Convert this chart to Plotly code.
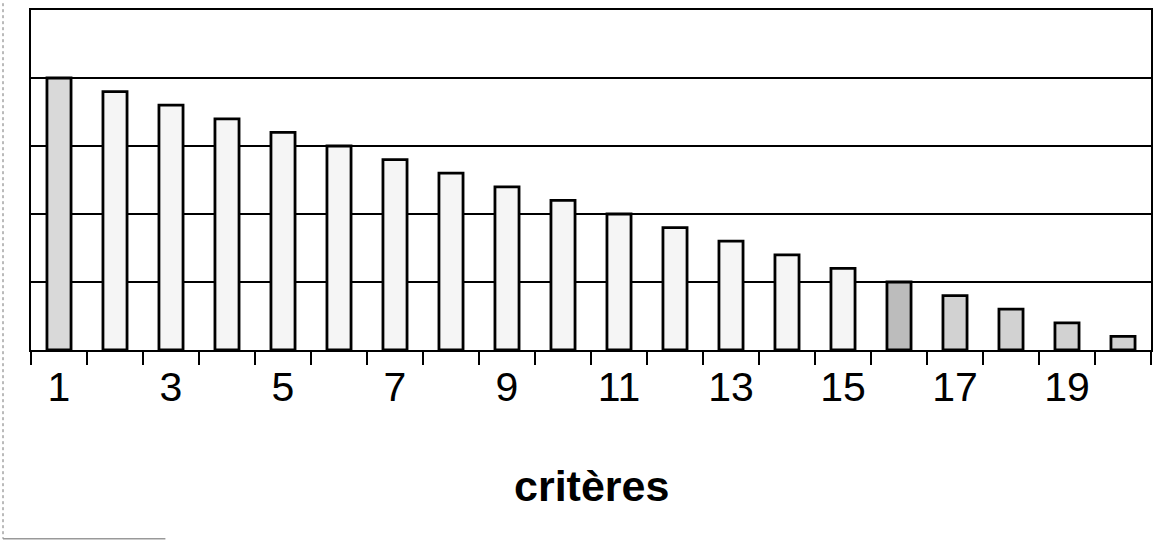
import plotly.graph_objects as go

# Data
criteres = list(range(1, 21))
valeurs = [20, 19, 18, 17, 16, 15, 14, 13, 12, 11, 10, 9, 8, 7, 6, 5, 4, 3, 2, 1]
tick_positions = [1, 3, 5, 7, 9, 11, 13, 15, 17, 19]
tick_labels = ["1", "3", "5", "7", "9", "11", "13", "15", "17", "19"]
bar_colors = ["#d9d9d9"] + ["#f5f5f5"] * 14 + ["#bcbcbc"] + ["#d2d2d2"] * 4

fig = go.Figure()
fig.add_trace(go.Bar(
    x=criteres, y=valeurs,
    marker=dict(color=bar_colors, line=dict(color="black", width=2.8)),
    width=0.43,
    showlegend=False,
    hoverinfo="x+y",
))

fig.update_layout(
    width=1161, height=544,
    margin=dict(l=31, r=10, t=8, b=194),
    paper_bgcolor="white", plot_bgcolor="white",
    font=dict(family="Liberation Sans, Arial, sans-serif", color="black"),
    xaxis=dict(
        range=[0.5, 20.5],
        tickmode="array", tickvals=tick_positions, ticktext=tick_labels,
        ticks="", tickfont=dict(size=41, color="black"),
        ticklabelstandoff=0,
        showgrid=False, zeroline=False,
        showline=True, linecolor="black", linewidth=2, mirror=True,
        minor=dict(tickmode="linear", tick0=0.5, dtick=1, ticks="outside",
                   ticklen=13, tickwidth=1.5, tickcolor="black", showgrid=False),
    ),
    yaxis=dict(
        range=[0, 25], dtick=5,
        showticklabels=False, ticks="",
        showgrid=True, gridcolor="black", gridwidth=1.5,
        zeroline=False,
        showline=True, linecolor="black", linewidth=2, mirror=True,
    ),
    annotations=[dict(
        text="<b>critères</b>", x=0.5, y=-0.40, xref="paper", yref="paper",
        xanchor="center", yanchor="middle", showarrow=False,
        font=dict(size=43, color="black", family="Liberation Sans, Arial, sans-serif"),
    )],
    shapes=[
        dict(type="line", xref="paper", yref="paper", x0=-0.025, x1=-0.025,
             y0=1.02, y1=-0.555, line=dict(color="#777777", width=1, dash="dot")),
        dict(type="line", xref="paper", yref="paper", x0=-0.025, x1=0.12,
             y0=-0.555, y1=-0.555, line=dict(color="#999999", width=1.5)),
    ],
)

fig.write_html("out.html", config={"displayModeBar": False},
               post_script="document.body.style.margin='0';")
